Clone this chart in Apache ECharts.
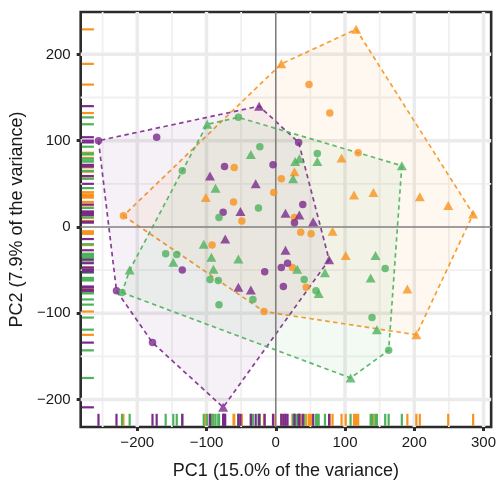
<!DOCTYPE html>
<html>
<head>
<meta charset="utf-8">
<script src="https://cdn.jsdelivr.net/npm/echarts@6/dist/echarts.min.js"></script>
<style>html,body{margin:0;padding:0;background:#fff}#c{width:499px;height:485px}</style>
</head>
<body>
<div id="c"></div>
<script>
// ---- data (PC1, PC2) ----
const orangeCircles = [[48,165],[78,132],[119,86],[8,56],[-60,69],[-61,29],[-49,7],[-3,40],[27,11],[36,-6],[51,-8],[24,-47],[44,-70],[-17,-98],[-220,13],[-92,-21]];
const orangeTriangles = [[116,229],[8,189],[27,64],[95,80],[113,37],[141,40],[208,35],[249,25],[285,15],[82,-5],[101,-33],[190,-72],[203,-125],[-101,34]];
const purpleCircles = [[-256,100],[-172,104],[33,98],[-74,70],[-4,72],[-76,17],[39,26],[27,5],[-16,-52],[17,-42],[8,-47],[11,-69],[-135,-50],[-230,-74],[-178,-134]];
const purpleTriangles = [[-24,140],[-95,59],[-51,18],[-29,50],[14,16],[34,14],[54,6],[-73,-14],[14,-27],[77,-38],[-54,-70],[-36,-73],[-76,-209]];
const greenCircles = [[-54,127],[-135,65],[-23,93],[-25,22],[-82,11],[60,85],[-33,-84],[-159,-31],[-143,-32],[-95,-61],[-83,-62],[-82,-90],[41,-61],[58,-74],[158,-48],[139,-105],[163,-143],[-222,-76]];
const greenTriangles = [[-99,119],[-36,84],[-87,45],[28,76],[34,79],[25,56],[60,76],[182,71],[-104,-20],[-148,-41],[-93,-35],[-54,-37],[-211,-50],[-90,-49],[31,-49],[71,-53],[144,-33],[137,-59],[62,-77],[146,-119],[108,-175]];

const xTicks = [-200,-100,0,100,200,300];
const yTicks = [-200,-100,0,100,200];
const xMinor = [-250,-150,-50,50,150,250];
const yMinor = [-150,-50,50,150];
const xTitle = 'PC1 (15.0% of the variance)';
const yTitle = 'PC2 (7.9% of the variance)';

const COL = {orange:'#F7931E', purple:'#7B2A8B', green:'#4DB25C'};
const X_MIN = -281.7, X_MAX = 311, Y_MIN = -231.8, Y_MAX = 249.1;
const FONT = '"Liberation Sans", Arial, Helvetica, sans-serif';

function hexA(hex, a){
  const n = parseInt(hex.slice(1),16);
  return 'rgba(' + ((n>>16)&255) + ',' + ((n>>8)&255) + ',' + (n&255) + ',' + a + ')';
}
function convexHull(points){
  const p = points.slice().sort((a,b)=>a[0]-b[0]||a[1]-b[1]);
  const cross=(o,a,b)=>(a[0]-o[0])*(b[1]-o[1])-(a[1]-o[1])*(b[0]-o[0]);
  const lower=[];for(const q of p){while(lower.length>=2&&cross(lower[lower.length-2],lower[lower.length-1],q)<=0)lower.pop();lower.push(q);}
  const upper=[];for(let i=p.length-1;i>=0;i--){const q=p[i];while(upper.length>=2&&cross(upper[upper.length-2],upper[upper.length-1],q)<=0)upper.pop();upper.push(q);}
  upper.pop();lower.pop();return lower.concat(upper);
}
function gridSeries(vals, vertical, width, color){
  return {type:'custom', silent:true, z:1, clip:false,
    data: vals.map(v=>vertical?[v,0]:[0,v]),
    renderItem:(params, api)=>{
      const cs = params.coordSys;
      const p = api.coord([api.value(0), api.value(1)]);
      const shape = vertical ? {x1:p[0],y1:cs.y,x2:p[0],y2:cs.y+cs.height} : {x1:cs.x,y1:p[1],x2:cs.x+cs.width,y2:p[1]};
      return {type:'line', shape, style:{stroke:color, lineWidth:width}};
    }};
}
function hullSeries(pts, color){
  const h = convexHull(pts);
  return {type:'custom', silent:true, z:2, data:h,
    renderItem:(params, api)=>{
      if(params.dataIndex!==0) return null;
      return {type:'polygon', shape:{points:h.map(q=>api.coord(q))},
        style:{fill:hexA(color,0.065), stroke:hexA(color,0.9), lineWidth:1.7, lineDash:[4.5,3.5]}};
    }};
}
function rugSeries(pts, color){
  return {type:'custom', silent:true, z:4, clip:false, data:pts,
    renderItem:(params, api)=>{
      const cs = params.coordSys;
      const p = api.coord([api.value(0), api.value(1)]);
      const b = cs.y+cs.height-1.2, l = cs.x+1.2;
      return {type:'group', children:[
        {type:'line', shape:{x1:p[0],y1:b,x2:p[0],y2:b-12}, style:{stroke:color,lineWidth:2.2}},
        {type:'line', shape:{x1:l,y1:p[1],x2:l+12,y2:p[1]}, style:{stroke:color,lineWidth:2.2}}
      ]};
    }};
}
function pointSeries(pts, color, sym){
  return {type:'scatter', z:5, data:pts, symbol:sym, symbolSize: sym==='triangle'?[10,9]:7.5,
    itemStyle:{color:color, opacity:0.8}, silent:true};
}
const minus = v => String(v).replace('-', '\u2212');

const all = {
  orange: orangeCircles.concat(orangeTriangles),
  purple: purpleCircles.concat(purpleTriangles),
  green: greenCircles.concat(greenTriangles)
};

const chart = echarts.init(document.getElementById('c'), null, {renderer:'canvas'});
chart.setOption({
  animation:false,
  backgroundColor:'#fff',
  grid:{left:78, top:12, right:6, bottom:57.5, show:true, borderColor:'#2b2b2b', borderWidth:2.6, backgroundColor:'#fff', z:0},
  xAxis:{type:'value', min:X_MIN, max:X_MAX,
    name:xTitle, nameLocation:'middle', nameGap:35,
    nameTextStyle:{fontFamily:FONT, fontSize:18, color:'#1a1a1a'},
    axisLine:{show:false, onZero:false}, splitLine:{show:false},
    axisTick:{show:true, customValues:xTicks, length:4, lineStyle:{color:'#2b2b2b', width:3}},
    axisLabel:{customValues:xTicks, formatter:minus, fontFamily:FONT, fontSize:15, color:'#1a1a1a', margin:8}},
  yAxis:{type:'value', min:Y_MIN, max:Y_MAX,
    name:yTitle, nameLocation:'middle', nameGap:48,
    nameTextStyle:{fontFamily:FONT, fontSize:18, color:'#1a1a1a'},
    axisLine:{show:false, onZero:false}, splitLine:{show:false},
    axisTick:{show:true, customValues:yTicks, length:4, lineStyle:{color:'#2b2b2b', width:3}},
    axisLabel:{customValues:yTicks, formatter:minus, fontFamily:FONT, fontSize:15, color:'#1a1a1a', margin:10}},
  series:[
    gridSeries(xMinor, true, 1.8, '#f0f0f0'),
    gridSeries(yMinor, false, 1.8, '#f0f0f0'),
    gridSeries(xTicks.filter(v=>v!==0), true, 3.5, '#ebebeb'),
    gridSeries(yTicks.filter(v=>v!==0), false, 3.5, '#ebebeb'),
    hullSeries(all.orange, COL.orange),
    hullSeries(all.purple, COL.purple),
    hullSeries(all.green, COL.green),
    Object.assign(gridSeries([0], true, 1.6, '#808080'), {z:3}),
    Object.assign(gridSeries([0], false, 1.6, '#808080'), {z:3}),
    rugSeries(all.orange, COL.orange),
    rugSeries(all.green, COL.green),
    rugSeries(all.purple, COL.purple),
    pointSeries(orangeCircles, COL.orange, 'circle'),
    pointSeries(orangeTriangles, COL.orange, 'triangle'),
    pointSeries(purpleCircles, COL.purple, 'circle'),
    pointSeries(purpleTriangles, COL.purple, 'triangle'),
    pointSeries(greenCircles, COL.green, 'circle'),
    pointSeries(greenTriangles, COL.green, 'triangle')
  ]
});
</script>
</body>
</html>
